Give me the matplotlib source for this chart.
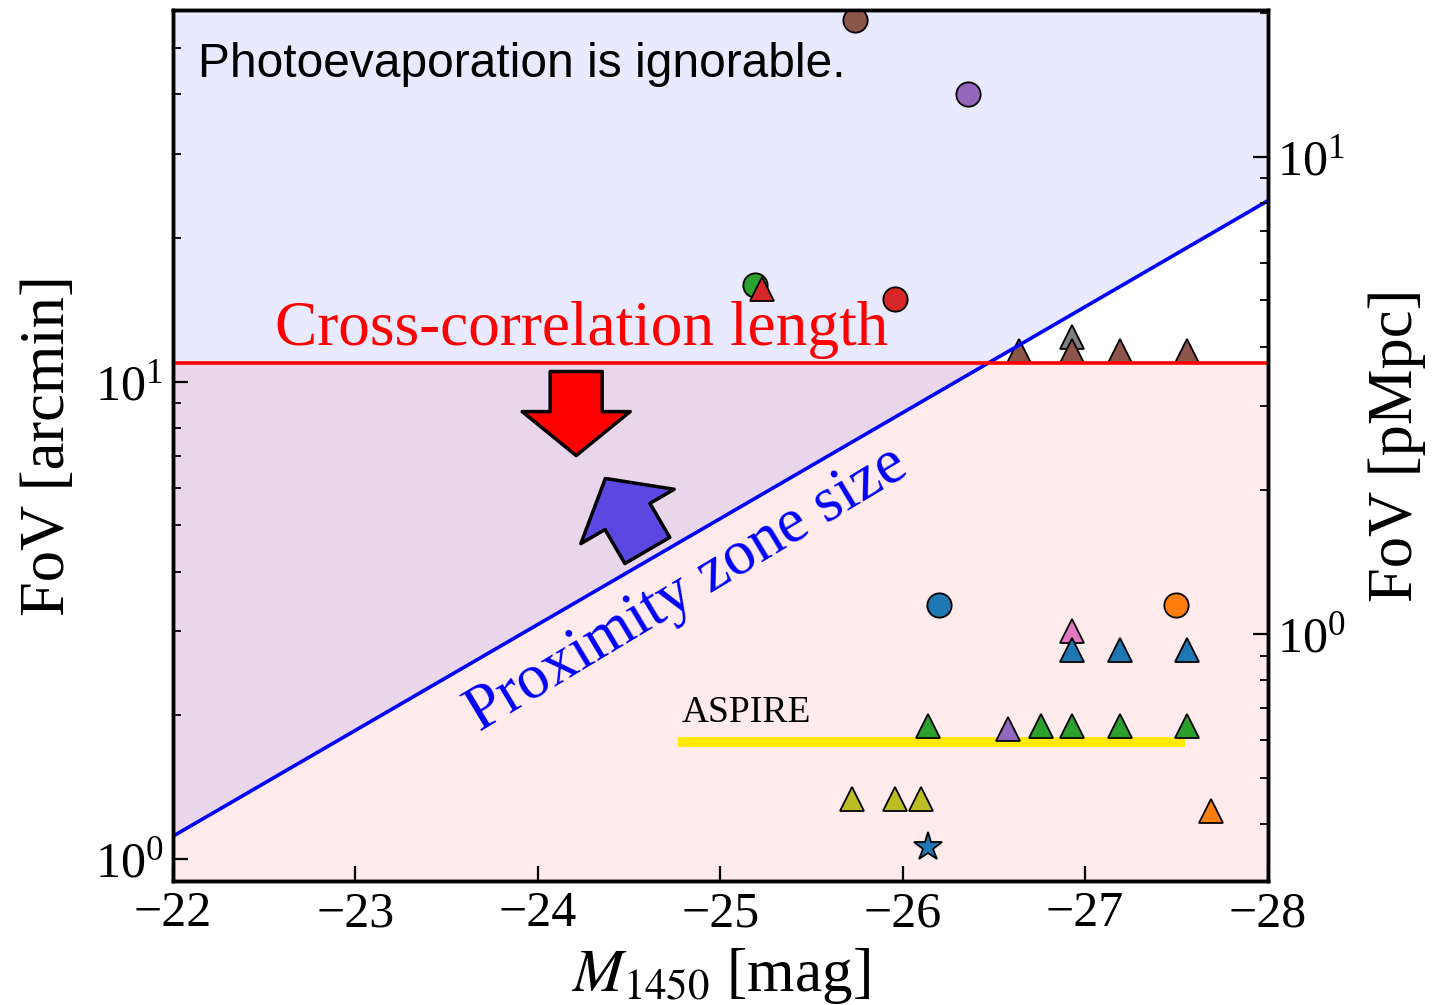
import numpy as np
import matplotlib
matplotlib.use('Agg')
import matplotlib.pyplot as plt

plt.rcParams['font.family'] = ['Liberation Serif', 'DejaVu Serif']
plt.rcParams['mathtext.fontset'] = 'stix'

# quasar samples: circles
circle_mag = [-25.74, -26.36, -25.19, -25.96, -26.20, -27.50]
circle_fov = [57.2, 40.0, 15.9, 14.9, 3.40, 3.40]
circle_col = ['tab:brown', 'tab:purple', 'tab:green', 'tab:red', 'tab:blue', 'tab:orange']

# triangles (drawing order matters for overlaps)
tri_mag = [-25.23, -26.93, -26.64, -26.93, -27.19, -27.56,
           -26.93, -26.93, -27.19, -27.56,
           -26.14, -26.76, -26.93, -27.19, -27.56, -26.58,
           -25.72, -25.96, -26.10, -27.69]
tri_fov = [15.6, 12.4, 11.6, 11.6, 11.6, 11.6,
           3.0, 2.74, 2.74, 2.74,
           1.90, 1.90, 1.90, 1.90, 1.90, 1.87,
           1.335, 1.335, 1.335, 1.26]
tri_col = ['tab:red', 'tab:gray', 'tab:brown', 'tab:brown', 'tab:brown', 'tab:brown',
           'tab:pink', 'tab:blue', 'tab:blue', 'tab:blue',
           'tab:green', 'tab:green', 'tab:green', 'tab:green', 'tab:green', 'tab:purple',
           'tab:olive', 'tab:olive', 'tab:olive', 'tab:orange']

star_mag = [-26.14]
star_fov = [1.06]

# lines
prox_mag = [-22.0, -28.0]
prox_fov = [1.117, 23.9]
xcorr_fov = 10.96
aspire_mag = [-24.77, -27.55]
aspire_fov = [1.76, 1.76]

ylim = (0.9, 60.0)
arcmin_per_pmpc = 2.96

fig = plt.figure(figsize=(14.42, 10.05), dpi=100)
ax = fig.add_axes([0.120, 0.1234, 0.759, 0.8666])
ax.set_yscale('log')
ax.set_xlim(-22, -28)
ax.set_ylim(*ylim)

# shaded regions
ax.fill_between(prox_mag, prox_fov, ylim[1], color='blue', alpha=0.085, lw=0, zorder=0)
ax.axhspan(ylim[0], xcorr_fov, color='red', alpha=0.08, lw=0, zorder=0)

for m, f, c in zip(circle_mag, circle_fov, circle_col):
    ax.plot(m, f, 'o', ms=17.5, mfc=c, mec='k', mew=1.3, zorder=3)
for m, f, c in zip(tri_mag, tri_fov, tri_col):
    ax.plot(m, f, '^', ms=17, mfc=c, mec='k', mew=1.3, zorder=3)
ax.plot(star_mag, star_fov, '*', ms=21, mfc='tab:blue', mec='k', mew=1.3, zorder=3)

ax.plot(prox_mag, prox_fov, color='blue', lw=2.6, zorder=4)
ax.axhline(xcorr_fov, color='red', lw=2.6, zorder=4)
ax.plot(aspire_mag, aspire_fov, color='#ffea00', lw=7, solid_capstyle='butt', zorder=2)

ax.text(-24.79, 2.03, 'ASPIRE', fontsize=27, va='center', ha='left')
ax.text(0.023, 0.937, 'Photoevaporation is ignorable.', transform=ax.transAxes,
        fontsize=34.5, family='Liberation Sans', va='center', ha='left')
ax.text(-24.24, 12.8, 'Cross-correlation length', color='red', fontsize=45.5,
        ha='center', va='center')
ax.text(-24.82, 3.67, 'Proximity zone size', color='blue', fontsize=45.5,
        ha='center', va='center', rotation=31, rotation_mode='anchor')

# arrows
ax.annotate('', xy=(-24.21, 7.0), xytext=(-24.21, 10.5),
            arrowprops=dict(arrowstyle='simple,head_length=0.44,head_width=1.08,tail_width=0.52',
                            mutation_scale=72, fc='red', ec='k', lw=2.5,
                            shrinkA=0, shrinkB=0), zorder=5)
ax.annotate('', xy=(-24.37, 6.27), xytext=(-24.60, 4.43),
            arrowprops=dict(arrowstyle='simple,head_length=0.44,head_width=1.08,tail_width=0.52',
                            mutation_scale=72, fc='#5c48e0', ec='k', lw=2.5,
                            shrinkA=0, shrinkB=0), zorder=5)

ax.set_xlabel(r'$M_{1450}$ [mag]', fontsize=44, labelpad=6)
ax.set_ylabel('FoV [arcmin]', fontsize=45, labelpad=12)
ax.tick_params(axis='both', which='major', direction='in', length=11, width=1.6,
               labelsize=36, pad=7)
ax.tick_params(axis='y', which='minor', direction='in', length=6, width=1.3)
ax.tick_params(top=False, right=False, which='both')
for s in ax.spines.values():
    s.set_linewidth(2.5)

ax2 = ax.twinx()
ax2.set_yscale('log')
ax2.set_ylim(ylim[0] / arcmin_per_pmpc, ylim[1] / arcmin_per_pmpc)
ax2.tick_params(axis='y', which='major', direction='in', length=11, width=1.6,
                labelsize=36, pad=7)
ax2.tick_params(axis='y', which='minor', direction='in', length=6, width=1.3)
ax2.set_ylabel('FoV [pMpc]', fontsize=45, labelpad=16)
for s in ax2.spines.values():
    s.set_linewidth(2.5)

fig.savefig('out.png', dpi=100)
